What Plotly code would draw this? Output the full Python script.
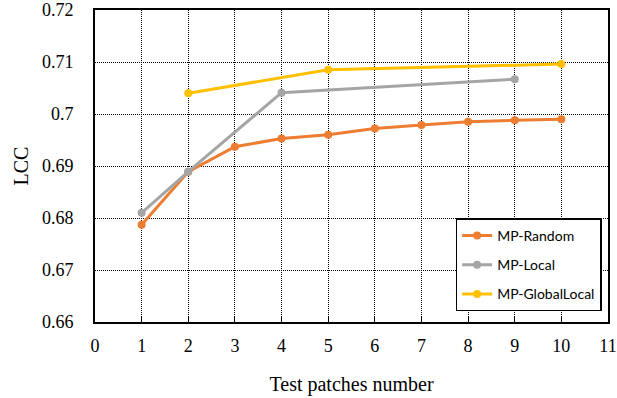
import plotly.graph_objects as go

# Data
random_x = [1, 2, 3, 4, 5, 6, 7, 8, 9, 10]
random_y = [0.6787, 0.6889, 0.6937, 0.6953, 0.6960, 0.6972, 0.6979, 0.6985, 0.6988, 0.6990]
local_x = [1, 2, 4, 9]
local_y = [0.6810, 0.6889, 0.7041, 0.7067]
global_x = [2, 5, 10]
global_y = [0.7040, 0.7085, 0.7096]
x_ticks = list(range(0, 12))
y_ticks = [0.66, 0.67, 0.68, 0.69, 0.70, 0.71, 0.72]
y_tick_labels = ["0.66", "0.67", "0.68", "0.69", "0.7", "0.71", "0.72"]

series = [
    ("MP-Random", random_x, random_y, "#ED7D31"),
    ("MP-Local", local_x, local_y, "#A5A5A5"),
    ("MP-GlobalLocal", global_x, global_y, "#FFC000"),
]

fig = go.Figure()
for name, xs, ys, col in series:
    fig.add_trace(go.Scatter(
        x=xs, y=ys, name=name, mode="lines+markers",
        line=dict(color=col, width=3),
        marker=dict(color=col, size=8),
        legendgroup=name,
    ))

grid_dash = "1px,1px"

fig.update_layout(
    width=617, height=398,
    margin=dict(l=95, r=9, t=10, b=76, autoexpand=False),
    paper_bgcolor="white", plot_bgcolor="white",
    showlegend=True,
    legend=dict(
        x=0.703, y=0.332, xanchor="left", yanchor="top",
        bgcolor="white", bordercolor="black", borderwidth=1.5,
        font=dict(family="Lato", size=14, color="black"),
        traceorder="grouped", tracegroupgap=8, itemwidth=30,
    ),
    xaxis=dict(
        range=[0, 11], tickvals=x_ticks, ticktext=[str(v) for v in x_ticks],
        automargin=False,
        showgrid=True, gridcolor="black", griddash=grid_dash, gridwidth=1,
        showline=True, linecolor="black", linewidth=2, mirror=True,
        ticks="inside", ticklen=5, tickcolor="black",
        ticklabelstandoff=6,
        zeroline=False,
        tickfont=dict(family="Liberation Serif", size=18, color="black"),
        title=dict(text="Test patches number", standoff=22,
                   font=dict(family="Liberation Serif", size=20, color="black")),
    ),
    yaxis=dict(
        range=[0.66, 0.72], tickvals=y_ticks, ticktext=y_tick_labels,
        automargin=False,
        showgrid=True, gridcolor="black", griddash=grid_dash, gridwidth=1,
        showline=True, linecolor="black", linewidth=2, mirror=True,
        ticks="", ticklabelstandoff=16, zeroline=False,
        tickfont=dict(family="Liberation Serif", size=18, color="black"),
        title=dict(text="LCC", standoff=8,
                   font=dict(family="Liberation Serif", size=20, color="black")),
    ),
)

fig.write_html("out.html", config={"displayModeBar": False},
               post_script="document.body.style.margin='0';")
